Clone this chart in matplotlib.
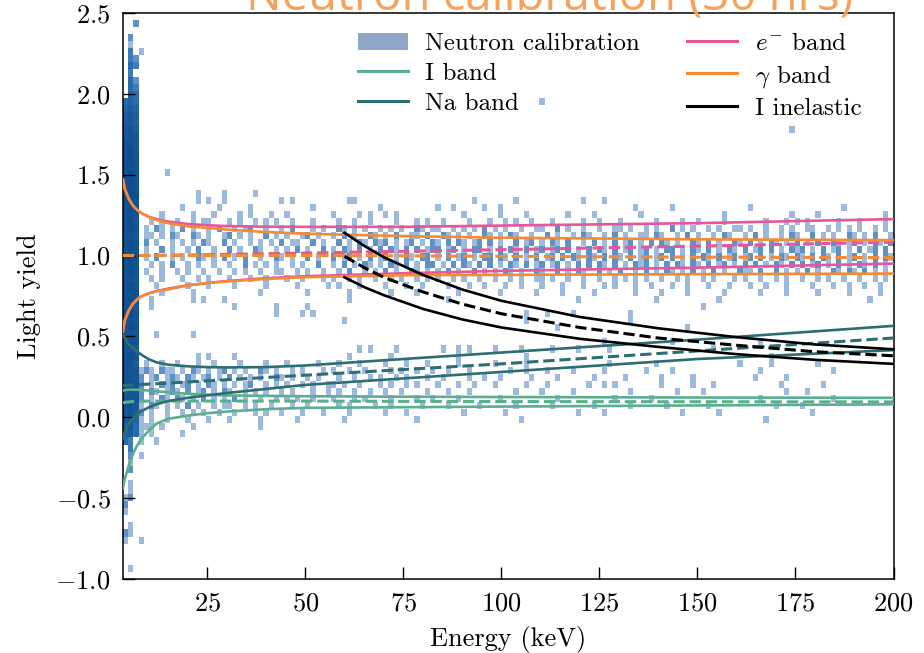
import numpy as np
import matplotlib
matplotlib.use('Agg')
import matplotlib.pyplot as plt
from matplotlib.colors import LogNorm, LinearSegmentedColormap
from matplotlib.patches import Patch
from matplotlib.lines import Line2D

plt.rcParams['font.family'] = 'serif'
plt.rcParams['font.serif'] = ['cmr10']
plt.rcParams['mathtext.fontset'] = 'cm'
plt.rcParams['axes.formatter.use_mathtext'] = True

GREEN = '#5aaf8c'; TEAL = '#2d6e73'; PINK = '#e8559a'; ORANGE = '#f58a35'; BLACK = 'black'

# ---- band curves ----
E_band = [3.5, 4, 5, 6, 7, 8, 10, 12, 15, 20, 25, 30, 40, 50, 75, 100, 150, 200]

i_hi  = [0.165, 0.168, 0.17, 0.17, 0.17, 0.168, 0.165, 0.16, 0.155, 0.145, 0.14, 0.135, 0.132, 0.13, 0.127, 0.125, 0.122, 0.12]
i_mid = [0.09, 0.092, 0.095, 0.097, 0.098, 0.099, 0.1, 0.1, 0.1, 0.1, 0.1, 0.1, 0.1, 0.1, 0.098, 0.097, 0.096, 0.095]
i_lo  = [-0.44, -0.38, -0.3, -0.23, -0.18, -0.14, -0.085, -0.04, -0.01, 0.01, 0.025, 0.035, 0.05, 0.058, 0.062, 0.066, 0.073, 0.08]

na_hi  = [0.51, 0.49, 0.45, 0.43, 0.41, 0.39, 0.36, 0.34, 0.325, 0.315, 0.31, 0.308, 0.31, 0.32, 0.36, 0.4, 0.48, 0.565]
na_mid = [0.195, 0.196, 0.198, 0.199, 0.2, 0.202, 0.205, 0.207, 0.211, 0.218, 0.225, 0.232, 0.246, 0.26, 0.295, 0.33, 0.41, 0.49]
na_lo  = [-0.13, -0.09, -0.04, -0.01, 0.015, 0.035, 0.06, 0.08, 0.1, 0.12, 0.135, 0.15, 0.175, 0.2, 0.24, 0.28, 0.36, 0.415]

e_hi  = [1.47, 1.41, 1.35, 1.31, 1.285, 1.265, 1.24, 1.225, 1.21, 1.195, 1.187, 1.182, 1.178, 1.177, 1.177, 1.185, 1.2, 1.225]
e_mid = [1.0, 1.0, 1.0, 1.0, 1.0, 1.0, 1.0, 1.001, 1.002, 1.003, 1.005, 1.007, 1.011, 1.015, 1.026, 1.036, 1.058, 1.082]
e_lo  = [0.53, 0.6, 0.66, 0.7, 0.725, 0.745, 0.765, 0.78, 0.795, 0.815, 0.83, 0.842, 0.86, 0.872, 0.89, 0.905, 0.925, 0.95]

g_hi  = [1.47, 1.41, 1.35, 1.31, 1.285, 1.265, 1.24, 1.22, 1.2, 1.18, 1.17, 1.16, 1.145, 1.135, 1.12, 1.11, 1.1, 1.095]
g_mid = [1.0, 1.0, 1.0, 1.0, 1.0, 1.0, 1.0, 1.0, 1.0, 1.0, 1.0, 1.0, 1.0, 1.0, 0.998, 0.995, 0.99, 0.987]
g_lo  = [0.53, 0.6, 0.66, 0.7, 0.725, 0.745, 0.765, 0.78, 0.79, 0.815, 0.83, 0.84, 0.855, 0.866, 0.878, 0.88, 0.885, 0.888]

E_inel = [60, 65, 70, 80, 90, 100, 120, 140, 160, 180, 200]
inel_hi  = [1.14, 1.06, 0.99, 0.88, 0.79, 0.72, 0.62, 0.55, 0.495, 0.45, 0.42]
inel_mid = [0.995, 0.925, 0.865, 0.775, 0.70, 0.64, 0.555, 0.49, 0.445, 0.405, 0.38]
inel_lo  = [0.865, 0.805, 0.755, 0.67, 0.605, 0.555, 0.485, 0.435, 0.39, 0.355, 0.33]

# ---- neutron calibration histogram, counts per cell ----
# rows run from light yield 2.5 (top) down to -1.0; columns from 3.5 to 200 keV
E_edges = np.linspace(3.5, 200, 149)
LY_edges = np.linspace(-1.0, 2.5, 81)
HIST_ROWS = [
    "",
    "..2",
    "",
    ".2",
    ".1",
    ".3.1",
    ".32",
    ".43",
    ".3",
    ".42",
    ".43",
    ".54",
    "454....... .......... .......... .......... .......... .......... .......... .......... 1",
    "565",
    "676",
    "675",
    "786....... .......... .......... .......... .......... .......... .......... .......... .......... .......... .......... .......... ........1",
    "787",
    "887",
    "897",
    "898",
    "998",
    "898.....1",
    "998",
    "898",
    "999....... ....1....1 .....1",
    "998....... ....1.1..1 .......... 1.1....... ...11..... .......... .......1.. .....1.... ........1. ..1",
    "899....... .1......1. ....1..... ......1... .........1 .......... 1..1.....1 ..1....... .......... ........1. .....1.... .......... 1......... ........1.",
    "898....1.. ...1...1.. ..1.1...1. .1........ 1....1.1.. 1.1....... .....1.... ..1....1.. .....1.... 1........1 .......... .....1.... ........1. ...1...... ......1.",
    "897..1.1.. 1..1.11... 1.1..1.1.1 ..1...1... .1..1..1.. ..1...1.1. .1....1... 1..1.1..1. ..1.....1. .1...1.... ..1....1.. 1....1.... ...1...1.1 .1.....1.. .1....1.",
    "898.1.21.1 .2.1..1.2. .1.12..1.. 1.2...1.1. .21.1.1..1 .1.1..21.1 1..1.1.1.2 .1.1..1..1 1..2.1..1. .1..11.1.. 1.1..2.1.1 ..1.1..11. 1..1..1.1. .11..1.1.1 .1..1.1.",
    "887.11.1.2 1..21.1..1 2.1.1..2.1 .1..12.1.. 1.2.1..21. 1.2..11.2. .21.1.1..2 1.1.21..1. .2.1..1.21 ..1.2.1..1 1.21..1.2. 1..1.21..1 .2.1..1.21 ..2.1.1..2 1.1.2..1",
    "898.2.1..1 .1.1.21..2 .1..1.1.1. 2.11..2.1. .2.1.21.21 2.1.12.1.2 1.2.21.12. 2.1..2.12. 1.21.2..1. 2.1.2.12.1 .2.21.1..2 1.2.1..21. 2.1.21.1.2 .1.2..21.1 2.1.21.2",
    "898.1..2.1 ..1.2..1.. 2.1..21..1 .1.2.1..2. 1.21.2.1.2 .21.2.2.12 2.12.1.22. 1.2.21.2.1 2.12.2.1.2 .21.2.12.1 2.1.22.1.2 1.2.1.21.2 .12.2.1.21 2.1.2.12.1 .2.12.2.",
    "999.1.2..1 .1..21.1.2 .1.2..1..2 1.1..2.1.. 2.12.1.2.1 2.1.21.22. 1.2.12.1.2 2.21.2.1.2 .12.2.21.2 1.2.21.2.1 2.12.2.1.2 .21.2.12.1 2.2.1.21.2 1.2.21.2.1 2.1.2.21",
    "898..1.1.2 ..1.1..1.. 1..2.1.1.1 ..1.1..2.. 1.2.1.21.1 .21.2.1.22 .1.2.21.2. 2.1.21.2.1 2.12.1.2.2 .21.2.1.21 2.1.2.21.2 1.2.12.1.2 .2.1.21.2. 2.12.1.2.1 .21.2.1.",
    "898.1..1.. 1.1..1..1. .1.1..1..1 1..1.1..1. .1.2..1.1. 2.1..21.1. 1.2.1..2.1 .1.21.1..2 1..2.1.21. .2.1.2..1. 2.1.21.1.2 .1.2.1..21 1.2..2.1.1 .2.1..21.2 1.2.1.1.",
    "887..1.1.. .1..1.1... 1...1..1.. .1..1...1. 1..1.1..1. .1.1..1.1. 1..1.1..1. .1..1.1..1 1.1..1..1. .1..1.1.1. 1..1..1.1. .1.1...1.1 ..1..1.1.. 1..1.1..1. .1..1.1.",
    "898...1... ..1...1... .1.....1.. ...1.....1 .1...1.... 1...1..1.. ..1...1..1 ...1..1... 1...1...1. ..1.1...1. .1...1..1. ..1...1... 1..1...1.. ..1...1..1 ..1..1..",
    "899....1.. ...1...... ......1... .....1.... ...1...... .1....1... ....1..... ..1......1 ....1..... 1.......1. ...1....1. .....1.... ..1....1.. ...1.....1 .....1..",
    "898..1.... ...1.1...1 .......... .......... ...1...... .......... ..1....... .......... .......1.. .......... ..1....... ....1..... .......... .......... ...1",
    "887..1.... .......... .1.......1 .....1.... .......... .......... .......... .......... .......... .......... .......... .1",
    "898....... .......... .........1 ....1.1... .......... .......... .......... .......1.. .1....1... .......1..",
    "887....... .......... .......... .......... ..1....... .......... .......... .......1.. .......... .......1..",
    "898....... .......... .......... .......... .......... .......... .......... .......... ...1...... .......... ........1.",
    "887...1... ...1......",
    "898....... .......... .......... .......... .......... .......... .......... .......... .......... ..1....... .....1.... .......... ..1",
    "887....... .......... .......... .......... .....1.1.. ..1....... .1..1.1... .1....1... ..1....1.. ...1...... .......... ...1......",
    "898....... ....1.1... .1........ .......... ...1...... .1........ ....1..... .......1.. .......... .......... .......... .......... ....1.....",
    "886.1..1.. 1...1..1.. ..1....1.. .1.....1.. .1...1.... 1...1...1. ....1..... .1.....1.. .......... ...1...... ..1....... ........1. ....1..... ...1......",
    "888121.211 .1.21.1.12 .1.1..21.1 ..1.1...1. 1..1..1... .1.1..1..1 ..1...1... ....1..1.. .1....1... ..1....... 1....1.... .......... ..1....... ......1...",
    "8872.12.12 1.21.12.1. 2.1.1.1..2 1.1..1.1.. .1..1..1.1 ..1.1...1. .1....1..1 ..1.....1. ...1...... 1.....1... ...1.....1 .......... .1.....1..",
    "8882.1.212 .12.1.21.1 .1.12..1.1 .1..1.1..1 1.1..1...1 .1..1.1... 1...1..1.. .1.....1.. .1.......1 ..1.1..... ...1.....1 ...1...... ......1... ....1.....",
    "7872.21.12 1.2.12.1.2 1..1.1.1.. 1.1...1..1 .1..1..1.. 1..1....1. ..1...1... .....1.... 1.....1... .......1.. ......1... .1........ .......1.. .1........",
    "8882.1.21. 21.1.2.1.1 .2.1..1..1 .1.1..1... 1...1.1... .1....1..1 ....1..... ..1....... ...1...... ....1..... .1........ .......... ..1....... ......1...",
    "8871.21.1. 1.2.1..1.1 1..1.1..1. ..1..1.... .1.1....1. .1.....1.. ..1.....1. .....1.... ..1....... 1......1.. ....1..... ..1....... .....1.... 1.........",
    "7862.1..1. .1.1.1..1. .1...1.1.. 1...1...1. ...1...... 1...1..... .....1.... ...1...... .......1.. ..1....... .......1.. ....1..... .......... ..1.......",
    "7751.1..1. ..1...1... 1.....1... ...1...... ..1....... ......1... .......... ......1... .......... .......... .......... .......... ...1......",
    "674111.1.. ...1...... ......1...",
    "5641.1.... .1",
    "43.1..1",
    ".3",
    ".2.1",
    ".1",
    ".2",
    "",
    ".1",
    ".1",
    "12",
    "2",
    "1",
    "",
    ".1",
    "21",
    "1..1",
    "",
    "",
    "",
    ".1",
    "",
]

NX = len(E_edges) - 1
counts = np.array([[0 if ch == '.' else int(ch) for ch in r.replace(' ', '').ljust(NX, '.')[:NX]]
                   for r in HIST_ROWS], dtype=float)
counts = np.ma.masked_equal(counts[::-1], 0)

cmap = LinearSegmentedColormap.from_list('nc', ['#9db9dc', '#5b8fc4', '#2467a8', '#104f8e'])

fig = plt.figure(figsize=(9.24, 6.53), dpi=100)
ax = fig.add_axes([0.133, 0.1133, 0.834, 0.867])
ax.pcolormesh(E_edges, LY_edges, counts, cmap=cmap, norm=LogNorm(1, 9), zorder=1)

def band(E, lo, mid, hi, col):
    ax.plot(E, hi, color=col, lw=1.9, zorder=3)
    ax.plot(E, lo, color=col, lw=1.9, zorder=3)
    ax.plot(E, mid, color=col, lw=2.2, ls='--', zorder=3)

band(E_band, i_lo, i_mid, i_hi, GREEN)
band(E_band, na_lo, na_mid, na_hi, TEAL)
band(E_band, e_lo, e_mid, e_hi, PINK)
band(E_band, g_lo, g_mid, g_hi, ORANGE)
band(E_inel, inel_lo, inel_mid, inel_hi, BLACK)

ax.set_xlim(3.5, 200)
ax.set_ylim(-1.0, 2.5)
ax.set_xticks([25, 50, 75, 100, 125, 150, 175, 200])
ax.set_yticks([-1.0, -0.5, 0.0, 0.5, 1.0, 1.5, 2.0, 2.5])
ax.tick_params(direction='in', length=8.5, width=1.0, labelsize=19, pad=9)
for s in ax.spines.values():
    s.set_linewidth(1.1)
ax.set_xlabel('Energy (keV)', fontsize=19, labelpad=8)
ax.set_ylabel('Light yield', fontsize=19, labelpad=10)

handles = [Patch(facecolor='#8fa6c8', label='Neutron calibration'),
           Line2D([], [], color=GREEN, lw=2.2, label='I band'),
           Line2D([], [], color=TEAL, lw=2.2, label='Na band'),
           Line2D([], [], color=PINK, lw=2.2, label=r'$e^{-}$ band'),
           Line2D([], [], color=ORANGE, lw=2.2, label=r'$\gamma$ band'),
           Line2D([], [], color=BLACK, lw=2.2, label='I inelastic')]
ax.legend(handles=handles, ncol=2, loc='upper right', bbox_to_anchor=(0.9585, 0.965),
          frameon=False, fontsize=18, borderpad=0, borderaxespad=0,
          labelspacing=0.3, columnspacing=1.9, handletextpad=0.7, handlelength=2.0)

fig.text(0.595, 0.9835, 'Neutron calibration (30 hrs)', color='#f5a25d', fontsize=34,
         family=['Open Sans', 'DejaVu Sans'], ha='center', va='baseline')

plt.savefig('out.png', dpi=100, facecolor='white')
